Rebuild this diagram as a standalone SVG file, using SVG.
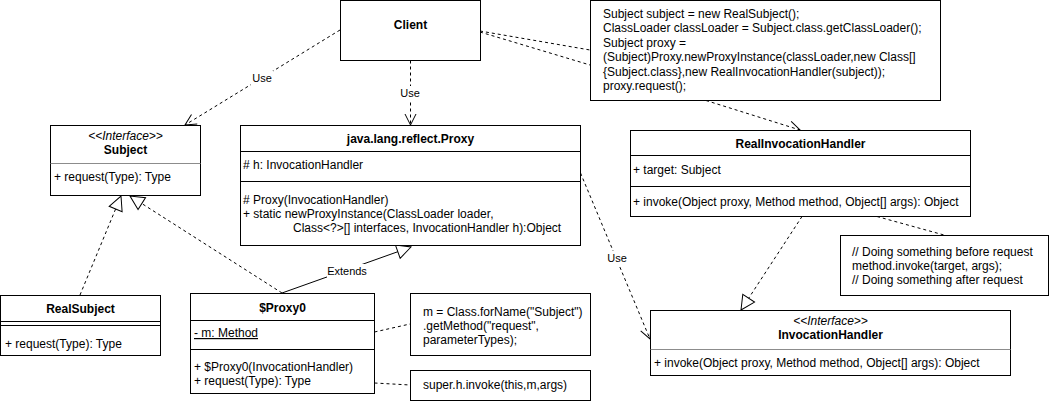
<svg xmlns="http://www.w3.org/2000/svg" width="1051" height="401" viewBox="0 0 1051 401">
<style>
text{font-family:"Liberation Sans",Arial,Helvetica,sans-serif;font-size:12px;fill:#000}
.b{font-weight:bold;text-anchor:middle}
.c{text-anchor:middle}
.i{font-style:italic;text-anchor:middle}
.box{fill:#fff;stroke:#000;stroke-width:1}
.sep{stroke:#000;stroke-width:1;fill:none}
.gsep{stroke:#8c8c8c;stroke-width:1;fill:none}
.dash{fill:none;stroke:#000;stroke-width:1;stroke-dasharray:3 3}
.solid{fill:none;stroke:#000;stroke-width:1}
.lbl{font-size:11px;text-anchor:middle}
.lblbg{fill:#fff;stroke:none}
</style>
<defs>
<marker id="open" viewBox="-13 -7 14 14" refX="0" refY="0" markerWidth="14" markerHeight="14" markerUnits="userSpaceOnUse" orient="auto" overflow="visible">
<path d="M-11,-5.5 L0,0 L-11,5.5" fill="none" stroke="#000" stroke-width="1"/>
</marker>
<marker id="tri" viewBox="-16 -8 17 16" refX="0" refY="0" markerWidth="17" markerHeight="16" markerUnits="userSpaceOnUse" orient="auto" overflow="visible">
<path d="M-14,-7 L0,0 L-14,7 Z" fill="#fff" stroke="#000" stroke-width="1"/>
</marker>
</defs>
<rect width="1051" height="401" fill="#fff"/>

<g id="connectors">
<path class="dash" d="M340,30 L185,125" marker-end="url(#open)"/>
<path class="dash" d="M410.5,60.5 L410.5,125" marker-end="url(#open)"/>
<path class="dash" d="M480,31 L590,50"/>
<path class="dash" d="M480,32 L590,65"/>
<path class="dash" d="M706,100.5 L800,130" marker-end="url(#open)"/>
<path class="dash" d="M580.5,173 L650,339" marker-end="url(#open)"/>
<path class="dash" d="M80,295 L121,196" marker-end="url(#tri)"/>
<path class="dash" d="M282,293 L130,196" marker-end="url(#tri)"/>
<path class="solid" d="M282,293 L411,247" marker-end="url(#tri)"/>
<path class="dash" d="M802,216.5 L741,310" marker-end="url(#tri)"/>
<path class="dash" d="M877,216.5 L944,235"/>
<path class="dash" d="M374.5,332 L410,324"/>
<path class="dash" d="M374.5,383 L410,385"/>
<rect class="lblbg" x="251" y="71" width="22" height="14"/>
<text class="lbl" x="262" y="82">Use</text>
<rect class="lblbg" x="399" y="86" width="22" height="14"/>
<text class="lbl" x="410" y="97">Use</text>
<rect class="lblbg" x="606" y="251" width="22" height="14"/>
<text class="lbl" x="617" y="262">Use</text>
<rect class="lblbg" x="327" y="264" width="40" height="14"/>
<text class="lbl" x="347" y="275">Extends</text>
</g>

<g id="client">
<rect class="box" x="340.5" y="0.5" width="140" height="60"/>
<text class="b" x="410.5" y="29">Client</text>
</g>

<g id="note-client">
<rect class="box" x="590.5" y="0.5" width="350" height="100"/>
<text x="603" y="18">Subject subject = new RealSubject();</text>
<text x="603" y="32.4">ClassLoader classLoader = Subject.class.getClassLoader();</text>
<text x="603" y="46.8">Subject proxy =</text>
<text x="603" y="61.2">(Subject)Proxy.newProxyInstance(classLoader,new Class[]</text>
<text x="603" y="75.6">{Subject.class},new RealInvocationHandler(subject));</text>
<text x="603" y="90">proxy.request();</text>
</g>

<g id="subject">
<rect class="box" x="50.5" y="125.5" width="150" height="70"/>
<text class="i" x="125.5" y="140">&lt;&lt;Interface&gt;&gt;</text>
<text class="b" x="125.5" y="154">Subject</text>
<line class="gsep" x1="50.5" y1="163.5" x2="200.5" y2="163.5"/>
<text x="54" y="181">+ request(Type): Type</text>
</g>

<g id="proxy">
<rect class="box" x="240.5" y="125.5" width="340" height="120"/>
<text class="b" x="410.5" y="143">java.lang.reflect.Proxy</text>
<line class="sep" x1="240.5" y1="151.5" x2="580.5" y2="151.5"/>
<text x="243" y="169">#  h: InvocationHandler</text>
<line class="sep" x1="240.5" y1="181.5" x2="580.5" y2="181.5"/>
<text x="243" y="204"># Proxy(InvocationHandler)</text>
<text x="243" y="218">+ static newProxyInstance(ClassLoader loader,</text>
<text x="293" y="232">Class&lt;?&gt;[] interfaces, InvocationHandler h):Object</text>
</g>

<g id="real-invocation-handler">
<rect class="box" x="630.5" y="130.5" width="340" height="86"/>
<text class="b" x="800.5" y="148">RealInvocationHandler</text>
<line class="sep" x1="630.5" y1="155.5" x2="970.5" y2="155.5"/>
<text x="633" y="174">+ target: Subject</text>
<line class="sep" x1="630.5" y1="186.5" x2="970.5" y2="186.5"/>
<text x="633" y="205.5">+ invoke(Object proxy, Method method, Object[] args): Object</text>
</g>

<g id="note-handler">
<rect class="box" x="840.5" y="235.5" width="208" height="60"/>
<text x="852" y="255.5">// Doing something before request</text>
<text x="852" y="269.9">method.invoke(target, args);</text>
<text x="852" y="284.3">// Doing something after request</text>
</g>

<g id="real-subject">
<rect class="box" x="0.5" y="295.5" width="160" height="60"/>
<text class="b" x="80.5" y="312.5">RealSubject</text>
<line class="sep" x1="0.5" y1="321.5" x2="160.5" y2="321.5"/>
<line class="sep" x1="0.5" y1="325.5" x2="160.5" y2="325.5"/>
<text x="5" y="347.5">+ request(Type): Type</text>
</g>

<g id="proxy0">
<rect class="box" x="190.5" y="293.5" width="184" height="100"/>
<text class="b" x="282.5" y="311.5">$Proxy0</text>
<line class="sep" x1="190.5" y1="320.5" x2="374.5" y2="320.5"/>
<text x="194" y="337" text-decoration="underline">- m: Method</text>
<line class="sep" x1="190.5" y1="349.5" x2="374.5" y2="349.5"/>
<text x="194" y="371">+ $Proxy0(InvocationHandler)</text>
<text x="194" y="385">+ request(Type): Type</text>
</g>

<g id="note-method">
<rect class="box" x="410.5" y="293.5" width="180" height="62"/>
<text x="423" y="316">m = Class.forName("Subject")</text>
<text x="423" y="330">.getMethod("request",</text>
<text x="423" y="344">parameterTypes);</text>
</g>

<g id="note-invoke">
<rect class="box" x="410.5" y="370.5" width="180" height="30"/>
<text x="423" y="389">super.h.invoke(this,m,args)</text>
</g>

<g id="invocation-handler">
<rect class="box" x="650.5" y="310.5" width="360" height="65"/>
<text class="i" x="830.5" y="325">&lt;&lt;Interface&gt;&gt;</text>
<text class="b" x="830.5" y="339">InvocationHandler</text>
<line class="gsep" x1="650.5" y1="349.5" x2="1010.5" y2="349.5"/>
<text x="654" y="366.5">+ invoke(Object proxy, Method method, Object[] args): Object</text>
</g>
</svg>
